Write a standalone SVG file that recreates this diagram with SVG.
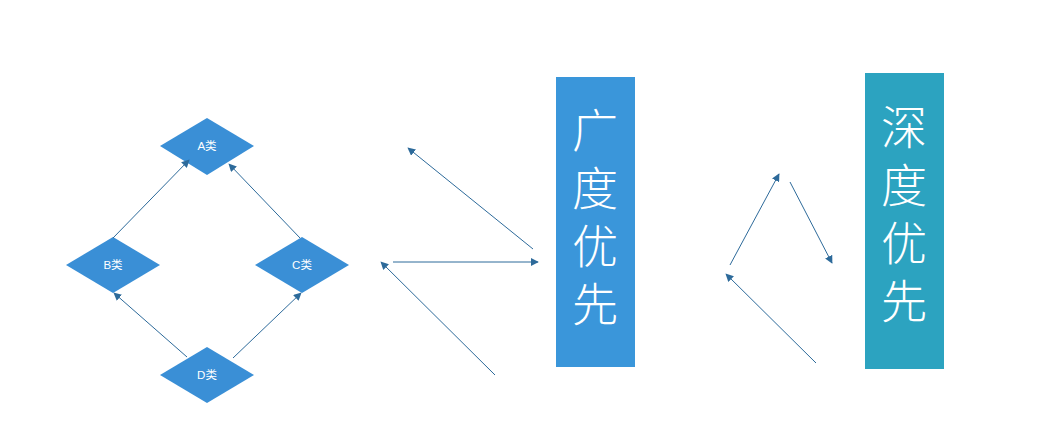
<svg xmlns="http://www.w3.org/2000/svg" width="1061" height="441" viewBox="0 0 1061 441">
<defs>
<style>
.dia{fill:#3a8fd6}
.lbl{fill:#fff;font-family:"Liberation Sans","Noto Sans CJK SC",sans-serif;font-size:11.5px;text-anchor:middle;dominant-baseline:central}
.big{fill:#fff;font-family:"Noto Sans CJK SC",sans-serif;font-weight:300;font-size:46px;writing-mode:vertical-rl;letter-spacing:12px}
.con{stroke:#2d6a9a;stroke-width:1;fill:none;marker-end:url(#ah)}
</style>
<marker id="ah" viewBox="0 0 10 10" refX="9" refY="5" markerWidth="8" markerHeight="8" orient="auto" markerUnits="userSpaceOnUse">
<path d="M0,0 L10,5 L0,10 z" fill="#2d6a9a"/>
</marker>
</defs>
<rect width="1061" height="441" fill="#fff"/>
<g id="nodeA"><polygon class="dia" points="207,118 254,146 207,175 160,146"/><text class="lbl" x="207" y="146">A类</text></g>
<g id="nodeB"><polygon class="dia" points="113,237 160,265 113,293 66,265"/><text class="lbl" x="113" y="265">B类</text></g>
<g id="nodeC"><polygon class="dia" points="302,237 349,265 302,293 255,265"/><text class="lbl" x="302" y="265">C类</text></g>
<g id="nodeD"><polygon class="dia" points="207,347 254,375 207,403 160,375"/><text class="lbl" x="207" y="375">D类</text></g>
<g id="bfs"><rect x="556" y="77" width="79" height="290" fill="#3a96da"/>
<text class="big" x="595" y="107">广度优先</text></g>
<g id="dfs"><rect x="865" y="73" width="79" height="296" fill="#2ca3c0"/>
<text class="big" x="904" y="104">深度优先</text></g>
<g id="connectors">
<line class="con" x1="113" y1="238" x2="189" y2="160"/>
<line class="con" x1="300" y1="238" x2="229" y2="164"/>
<line class="con" x1="187" y1="357" x2="114" y2="293"/>
<line class="con" x1="233" y1="358" x2="301" y2="293"/>
<line class="con" x1="533" y1="249" x2="408" y2="148"/>
<line class="con" x1="393" y1="262" x2="538" y2="262"/>
<line class="con" x1="495" y1="375" x2="381" y2="262"/>
<line class="con" x1="730" y1="265" x2="779" y2="174"/>
<line class="con" x1="790" y1="182" x2="832" y2="263"/>
<line class="con" x1="816" y1="363" x2="726" y2="274"/>
</g>
</svg>
